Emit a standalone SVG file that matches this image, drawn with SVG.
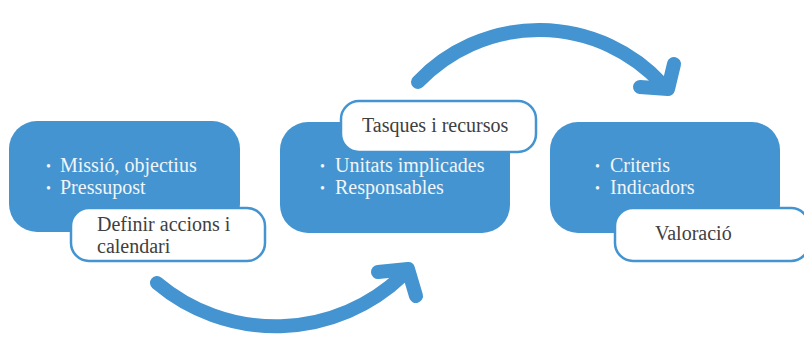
<svg xmlns="http://www.w3.org/2000/svg" width="804" height="347" viewBox="0 0 804 347">
<style>
.blue{fill:#4394D0;}
.lbl{fill:#fff;stroke:#4394D0;stroke-width:2.5;}
.t{font-family:"Liberation Serif",serif;font-size:20px;}
.b{font-family:"Liberation Serif",serif;font-size:14px;}
.lt{fill:#F2F4F8;}
.dk{fill:#404040;}
.arr{fill:none;stroke:#4394D0;stroke-width:14;stroke-linecap:round;stroke-linejoin:round;}
</style>
<rect width="804" height="347" fill="#fff"/>
<g id="connectors">
<path class="arr" d="M157,283 A184,184 0 0 0 402,276"/>
<path class="arr" d="M378,272 L408,269 L416,296"/>
<path class="arr" d="M418,82 A167,167 0 0 1 662,84"/>
<path class="arr" d="M674,64 L668,89 L640,87"/>
</g>
<g id="node1">
<rect class="blue" x="9" y="121" width="231" height="111" rx="28"/>
<text class="b lt" x="46" y="171">•</text>
<text class="t lt" x="60" y="172">Missió, objectius</text>
<text class="b lt" x="46" y="193">•</text>
<text class="t lt" x="60" y="194">Pressupost</text>
<rect class="lbl" x="71" y="208" width="194" height="53" rx="18"/>
<text class="t dk" x="97" y="231">Definir accions i</text>
<text class="t dk" x="97" y="253">calendari</text>
</g>
<g id="node2">
<rect class="blue" x="280" y="122" width="230" height="111" rx="28"/>
<text class="b lt" x="320" y="171">•</text>
<text class="t lt" x="335" y="172">Unitats implicades</text>
<text class="b lt" x="320" y="193">•</text>
<text class="t lt" x="335" y="194">Responsables</text>
<rect class="lbl" x="341" y="101" width="195" height="51" rx="18"/>
<text class="t dk" x="362" y="132">Tasques i recursos</text>
</g>
<g id="node3">
<rect class="blue" x="550" y="122" width="230" height="111" rx="28"/>
<text class="b lt" x="595" y="171">•</text>
<text class="t lt" x="610" y="172">Criteris</text>
<text class="b lt" x="595" y="193">•</text>
<text class="t lt" x="610" y="194">Indicadors</text>
<rect class="lbl" x="615" y="208" width="194" height="53" rx="18"/>
<text class="t dk" x="655" y="240">Valoració</text>
</g>
</svg>
